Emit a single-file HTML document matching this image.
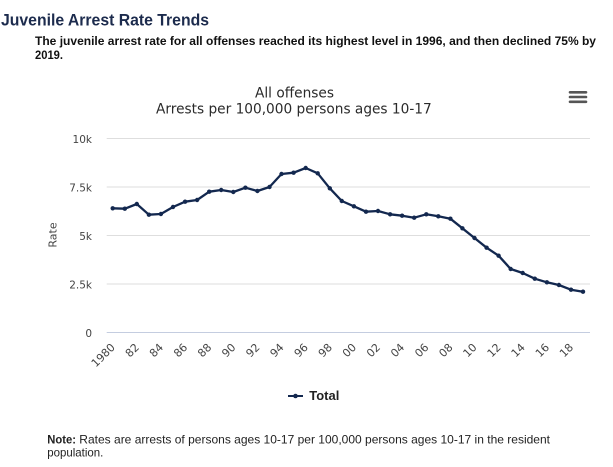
<!DOCTYPE html>
<html><head><meta charset="utf-8"><style>
html,body{margin:0;padding:0;background:#fff;}
svg{display:block;}
</style></head><body>
<svg width="613" height="467" viewBox="0 0 613 467" xmlns="http://www.w3.org/2000/svg">
<rect width="613" height="467" fill="#fff"/>
<text x="1" y="25.5" font-family="Liberation Sans, Arial, sans-serif" font-weight="bold" font-size="17" fill="#1c2b4d" textLength="208" lengthAdjust="spacingAndGlyphs">Juvenile Arrest Rate Trends</text>
<text x="35" y="45" font-family="Liberation Sans, Arial, sans-serif" font-weight="bold" font-size="12" fill="#111" textLength="561" lengthAdjust="spacingAndGlyphs">The juvenile arrest rate for all offenses reached its highest level in 1996, and then declined 75% by</text>
<text x="35" y="59" font-family="Liberation Sans, Arial, sans-serif" font-weight="bold" font-size="12" fill="#111" textLength="28" lengthAdjust="spacingAndGlyphs">2019.</text>

<text x="255" y="97.3" font-family="DejaVu Sans, Verdana, sans-serif" font-size="14" fill="#2a2a2a" textLength="79" lengthAdjust="spacingAndGlyphs">All offenses</text>
<text x="156" y="113.3" font-family="DejaVu Sans, Verdana, sans-serif" font-size="14" fill="#2a2a2a" textLength="275.7" lengthAdjust="spacingAndGlyphs">Arrests per 100,000 persons ages 10-17</text>

<g stroke="#555" stroke-width="2.6" stroke-linecap="round">
<line x1="570" y1="92.3" x2="586" y2="92.3"/>
<line x1="570" y1="97" x2="586" y2="97"/>
<line x1="570" y1="101.8" x2="586" y2="101.8"/>
</g>

<g stroke="#dedede" stroke-width="1">
<line x1="106.7" y1="138.5" x2="590" y2="138.5"/>
<line x1="106.7" y1="187" x2="590" y2="187"/>
<line x1="106.7" y1="235.5" x2="590" y2="235.5"/>
<line x1="106.7" y1="284" x2="590" y2="284"/>
</g>
<line x1="106.7" y1="332.5" x2="590" y2="332.5" stroke="#c4cde0" stroke-width="1"/>

<g font-family="DejaVu Sans, Verdana, sans-serif" font-size="10.5" fill="#444" text-anchor="end">
<text x="92" y="143">10k</text>
<text x="92" y="191.5">7.5k</text>
<text x="92" y="240">5k</text>
<text x="92" y="288.5">2.5k</text>
<text x="92" y="337">0</text>
</g>
<text transform="translate(56.5,235) rotate(-90)" font-family="DejaVu Sans, Verdana, sans-serif" font-size="11" fill="#444" text-anchor="middle">Rate</text>

<g font-family="DejaVu Sans, Verdana, sans-serif" font-size="11" fill="#444" text-anchor="end">
<text transform="translate(115.7,348) rotate(-45)">1980</text>
<text transform="translate(139.8,348) rotate(-45)">82</text>
<text transform="translate(163.9,348) rotate(-45)">84</text>
<text transform="translate(188.1,348) rotate(-45)">86</text>
<text transform="translate(212.2,348) rotate(-45)">88</text>
<text transform="translate(236.3,348) rotate(-45)">90</text>
<text transform="translate(260.4,348) rotate(-45)">92</text>
<text transform="translate(284.5,348) rotate(-45)">94</text>
<text transform="translate(308.7,348) rotate(-45)">96</text>
<text transform="translate(332.8,348) rotate(-45)">98</text>
<text transform="translate(356.9,348) rotate(-45)">00</text>
<text transform="translate(381,348) rotate(-45)">02</text>
<text transform="translate(405.1,348) rotate(-45)">04</text>
<text transform="translate(429.3,348) rotate(-45)">06</text>
<text transform="translate(453.4,348) rotate(-45)">08</text>
<text transform="translate(477.5,348) rotate(-45)">10</text>
<text transform="translate(501.6,348) rotate(-45)">12</text>
<text transform="translate(525.7,348) rotate(-45)">14</text>
<text transform="translate(549.9,348) rotate(-45)">16</text>
<text transform="translate(574,348) rotate(-45)">18</text>
</g>

<polyline fill="none" stroke="#13284f" stroke-width="2.3" stroke-linejoin="round" points="112.7,208.3 124.8,208.7 136.8,204 148.9,214.7 160.9,214 173,207 185.1,201.7 197.1,200 209.2,191.7 221.2,190 233.3,192 245.4,187.7 257.4,191 269.5,187 281.5,174 293.6,172.7 305.7,168 317.7,173.3 329.8,188.3 341.8,201 353.9,206.3 366,211.7 378,211 390.1,214.3 402.1,215.7 414.2,217.7 426.3,214.3 438.3,216.3 450.4,218.7 462.4,228.3 474.5,238 486.6,247.7 498.6,255.7 510.7,269 522.7,273 534.8,278.7 546.9,282.3 558.9,285 571,289.7 583,291.7"/>
<g fill="#13284f">
<circle cx="112.7" cy="208.3" r="2.2"/><circle cx="124.8" cy="208.7" r="2.2"/><circle cx="136.8" cy="204" r="2.2"/><circle cx="148.9" cy="214.7" r="2.2"/><circle cx="160.9" cy="214" r="2.2"/><circle cx="173" cy="207" r="2.2"/><circle cx="185.1" cy="201.7" r="2.2"/><circle cx="197.1" cy="200" r="2.2"/><circle cx="209.2" cy="191.7" r="2.2"/><circle cx="221.2" cy="190" r="2.2"/><circle cx="233.3" cy="192" r="2.2"/><circle cx="245.4" cy="187.7" r="2.2"/><circle cx="257.4" cy="191" r="2.2"/><circle cx="269.5" cy="187" r="2.2"/><circle cx="281.5" cy="174" r="2.2"/><circle cx="293.6" cy="172.7" r="2.2"/><circle cx="305.7" cy="168" r="2.2"/><circle cx="317.7" cy="173.3" r="2.2"/><circle cx="329.8" cy="188.3" r="2.2"/><circle cx="341.8" cy="201" r="2.2"/><circle cx="353.9" cy="206.3" r="2.2"/><circle cx="366" cy="211.7" r="2.2"/><circle cx="378" cy="211" r="2.2"/><circle cx="390.1" cy="214.3" r="2.2"/><circle cx="402.1" cy="215.7" r="2.2"/><circle cx="414.2" cy="217.7" r="2.2"/><circle cx="426.3" cy="214.3" r="2.2"/><circle cx="438.3" cy="216.3" r="2.2"/><circle cx="450.4" cy="218.7" r="2.2"/><circle cx="462.4" cy="228.3" r="2.2"/><circle cx="474.5" cy="238" r="2.2"/><circle cx="486.6" cy="247.7" r="2.2"/><circle cx="498.6" cy="255.7" r="2.2"/><circle cx="510.7" cy="269" r="2.2"/><circle cx="522.7" cy="273" r="2.2"/><circle cx="534.8" cy="278.7" r="2.2"/><circle cx="546.9" cy="282.3" r="2.2"/><circle cx="558.9" cy="285" r="2.2"/><circle cx="571" cy="289.7" r="2.2"/><circle cx="583" cy="291.7" r="2.2"/>
</g>

<line x1="288" y1="396" x2="303" y2="396" stroke="#13284f" stroke-width="2"/>
<circle cx="295.5" cy="396" r="2.3" fill="#13284f"/>
<text x="309.3" y="400" font-family="Liberation Sans, Arial, sans-serif" font-weight="bold" font-size="12.5" fill="#222" textLength="30" lengthAdjust="spacingAndGlyphs">Total</text>

<text x="47.3" y="443.5" font-family="Liberation Sans, Arial, sans-serif" font-weight="bold" font-size="12" fill="#222" textLength="28.7" lengthAdjust="spacingAndGlyphs">Note:</text>
<text x="79.3" y="443.5" font-family="Liberation Sans, Arial, sans-serif" font-size="12" fill="#222" textLength="470.7" lengthAdjust="spacingAndGlyphs">Rates are arrests of persons ages 10-17 per 100,000 persons ages 10-17 in the resident</text>
<text x="47.3" y="456.7" font-family="Liberation Sans, Arial, sans-serif" font-size="12" fill="#222" textLength="56" lengthAdjust="spacingAndGlyphs">population.</text>
</svg>
</body></html>
